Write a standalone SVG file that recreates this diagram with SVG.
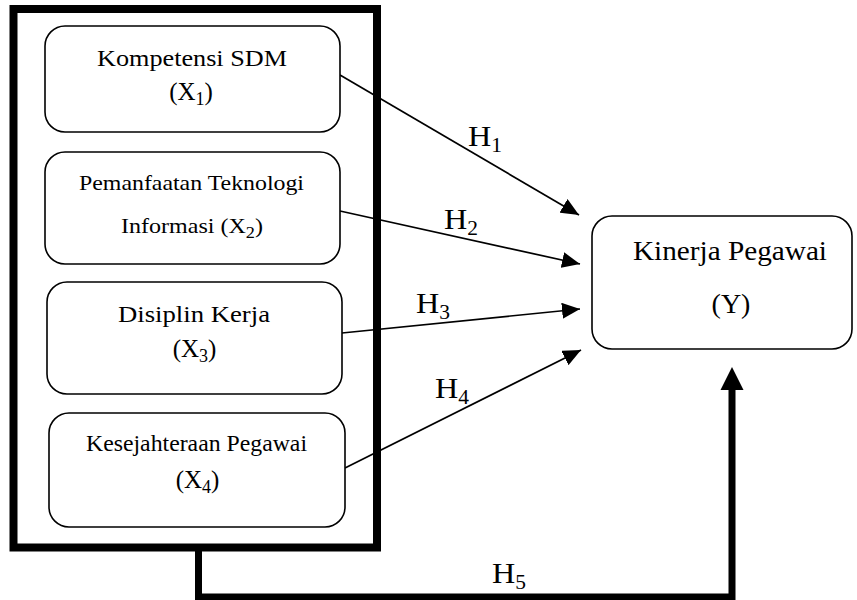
<svg xmlns="http://www.w3.org/2000/svg" width="857" height="600" viewBox="0 0 857 600">
<style>
  .box { fill: #fff; stroke: #000; stroke-width: 1.6; }
  .t { font-family: "Liberation Serif", "Times New Roman", serif; fill: #000; text-anchor: middle; }
  .h { font-family: "Liberation Serif", "Times New Roman", serif; fill: #000; font-size: 30px; }
  .thin { stroke: #000; stroke-width: 1.7; fill: none; }
  .thick { stroke: #000; stroke-width: 7; fill: none; }
</style>
<defs>
  <marker id="ah" markerUnits="userSpaceOnUse" markerWidth="20" markerHeight="16" refX="18" refY="8" orient="auto">
    <path d="M0,0 L18,8 L0,16 Z" fill="#000"/>
  </marker>
</defs>
<rect x="0" y="0" width="857" height="600" fill="#fff"/>

<g id="outer-frame">
  <rect x="13.5" y="9" width="363.5" height="538.5" fill="none" stroke="#000" stroke-width="8"/>
</g>

<g id="connectors">
  <line class="thin" x1="340" y1="75" x2="579" y2="215" marker-end="url(#ah)"/>
  <line class="thin" x1="340" y1="211" x2="580" y2="264" marker-end="url(#ah)"/>
  <line class="thin" x1="342" y1="333" x2="580" y2="309" marker-end="url(#ah)"/>
  <line class="thin" x1="345" y1="468" x2="581" y2="350" marker-end="url(#ah)"/>
  <polyline class="thick" points="198.5,551 198.5,597 732,597 732,390"/>
  <path d="M720.5,390 L732,367 L743.5,390 Z" fill="#000"/>
  <text class="h" x="468" y="146" textLength="34" lengthAdjust="spacingAndGlyphs">H<tspan font-size="20" dy="6">1</tspan></text>
  <text class="h" x="444" y="229" textLength="34" lengthAdjust="spacingAndGlyphs">H<tspan font-size="20" dy="6">2</tspan></text>
  <text class="h" x="416" y="313" textLength="34" lengthAdjust="spacingAndGlyphs">H<tspan font-size="20" dy="6">3</tspan></text>
  <text class="h" x="435" y="398" textLength="34" lengthAdjust="spacingAndGlyphs">H<tspan font-size="20" dy="6">4</tspan></text>
  <text class="h" x="492" y="583" textLength="34" lengthAdjust="spacingAndGlyphs">H<tspan font-size="20" dy="6">5</tspan></text>
</g>

<g id="x1">
  <rect class="box" x="45" y="26" width="295" height="106" rx="20"/>
  <text class="t" x="192" y="66" font-size="24" textLength="190" lengthAdjust="spacingAndGlyphs">Kompetensi SDM</text>
  <text class="t" x="191" y="100" font-size="25">(X<tspan font-size="18" dy="5">1</tspan><tspan dy="-5">)</tspan></text>
</g>

<g id="x2">
  <rect class="box" x="45" y="152" width="295" height="112" rx="20"/>
  <text class="t" x="191.5" y="190" font-size="21" textLength="225" lengthAdjust="spacingAndGlyphs">Pemanfaatan Teknologi</text>
  <text class="t" x="192" y="233" font-size="21" textLength="142" lengthAdjust="spacingAndGlyphs">Informasi (X<tspan font-size="16" dy="5">2</tspan><tspan dy="-5">)</tspan></text>
</g>

<g id="x3">
  <rect class="box" x="47" y="282" width="295" height="112" rx="20"/>
  <text class="t" x="194" y="322" font-size="24" textLength="152" lengthAdjust="spacingAndGlyphs">Disiplin Kerja</text>
  <text class="t" x="194.5" y="357" font-size="25">(X<tspan font-size="18" dy="5">3</tspan><tspan dy="-5">)</tspan></text>
</g>

<g id="x4">
  <rect class="box" x="49" y="413" width="296" height="114" rx="20"/>
  <text class="t" x="196.5" y="451" font-size="23" textLength="221" lengthAdjust="spacingAndGlyphs">Kesejahteraan Pegawai</text>
  <text class="t" x="197.5" y="488" font-size="25">(X<tspan font-size="18" dy="5">4</tspan><tspan dy="-5">)</tspan></text>
</g>

<g id="y">
  <rect class="box" x="592" y="216" width="260" height="133" rx="20"/>
  <text class="t" x="730" y="260" font-size="28" textLength="194" lengthAdjust="spacingAndGlyphs">Kinerja Pegawai</text>
  <text class="t" x="731" y="313" font-size="28">(Y)</text>
</g>
</svg>
